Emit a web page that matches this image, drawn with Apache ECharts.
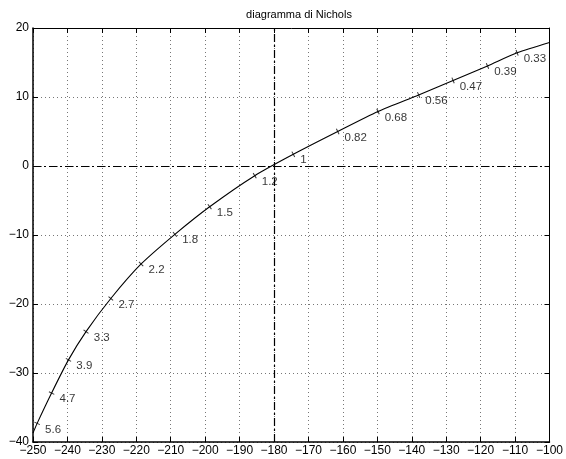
<!DOCTYPE html>
<html>
<head>
<meta charset="utf-8">
<script src="https://cdn.jsdelivr.net/npm/echarts@6/dist/echarts.min.js"></script>
<style>html,body{margin:0;padding:0;background:#fff}#c{width:566px;height:459px}</style>
</head>
<body>
<div id="c"></div>
<script>
// Frequency labels along the Nichols locus
const freqLabels = ['0.33','0.39','0.47','0.56','0.68','0.82','1','1.2','1.5','1.8','2.2','2.7','3.3','3.9','4.7','5.6'];
// Phase (deg) at each labelled frequency
const markPhase = [-109.4,-118.0,-128.0,-138.0,-149.8,-161.5,-174.4,-185.6,-198.7,-208.8,-218.6,-227.4,-234.6,-239.7,-244.6,-248.8];
// Gain (dB) at each labelled frequency
const markGain = [16.4,14.5,12.4,10.3,7.9,5.0,1.7,-1.4,-5.9,-9.9,-14.2,-19.2,-24.0,-28.1,-32.9,-37.3];
// Locus ends at the plot edges
const startPoint = [-100, 17.9];
const endPoint = [-250, -38.7];
// Axis range / tick step
const xRange = [-250, -100], xStep = 10;
const yRange = [-40, 20], yStep = 10;

const curve = [startPoint].concat(markPhase.map((p,i)=>[p, markGain[i]])).concat([endPoint]);

const fontFam = '"Liberation Sans", Arial, Helvetica, sans-serif';
const minus = v => String(v).replace('-', '\u2212');
const gridLine = {show:true, lineStyle:{color:'#777', type:[1,3], width:1}};

const chart = echarts.init(document.getElementById('c'), null, {renderer:'canvas'});
function marks(rot){
  return markPhase.map((p,i)=>({value:[p, markGain[i]], name:freqLabels[i], symbolRotate: rot ? rot[i] : 0}));
}
function axisX(pos, main){
  return {type:'value', min:xRange[0], max:xRange[1], interval:xStep, position:pos,
    axisLine:{show:true, onZero:false, lineStyle:{color:'#000', width:main?1.5:1}},
    axisTick:{show:true, inside:true, length:5, lineStyle:{color:'#000'}},
    axisLabel:main?{color:'#000', fontSize:12, fontFamily:fontFam, margin:3, formatter:minus}:{show:false},
    splitLine:main?gridLine:{show:false}};
}
function axisY(pos, main){
  return {type:'value', min:yRange[0], max:yRange[1], interval:yStep, position:pos,
    axisLine:{show:true, onZero:false, lineStyle:{color:'#000', width:main?1.5:1}},
    axisTick:{show:true, inside:true, length:5, lineStyle:{color:'#000'}},
    axisLabel:main?{color:'#000', fontSize:12, fontFamily:fontFam, margin:4, formatter:minus}:{show:false},
    splitLine:main?gridLine:{show:false}};
}
chart.setOption({
  animation:false,
  backgroundColor:'#fff',
  title:{text:'diagramma di Nichols', left:294, textAlign:'center', top:4,
    textStyle:{fontSize:11, fontWeight:'normal', color:'#000', fontFamily:fontFam}},
  grid:{left:33, right:10, top:28, bottom:17, show:false},
  xAxis:[axisX('bottom', true), axisX('top', false)],
  yAxis:[axisY('left', true), axisY('right', false)],
  series:[
    {type:'line', data:curve, smooth:0.25, showSymbol:false, symbol:'none',
      lineStyle:{color:'#000', width:1.1}, clip:true, z:3,
      markLine:{silent:true, symbol:'none', label:{show:false},
        lineStyle:{color:'#000', width:1.2, type:[8,3,2,3]},
        data:[{yAxis:0},{xAxis:-180}]}},
    {type:'scatter', data:marks(null), symbol:'rect', symbolSize:[1,6],
      itemStyle:{color:'#000'}, z:4,
      label:{show:true, position:'right', distance:5, offset:[0,6],
        formatter:p=>p.name, color:'#000', fontSize:11.5, fontFamily:fontFam}}
  ]
});
// rotate each tick mark to lie perpendicular to the locus (pixel space)
const px = curve.map(pt => chart.convertToPixel({xAxisIndex:0, yAxisIndex:0}, pt));
const rot = markPhase.map((p,i)=>{
  const a = px[i], b = px[i+2];
  return Math.atan2(-(b[1]-a[1]), b[0]-a[0]) * 180 / Math.PI;
});
chart.setOption({series:[{}, {data:marks(rot)}]});
</script>
</body>
</html>
